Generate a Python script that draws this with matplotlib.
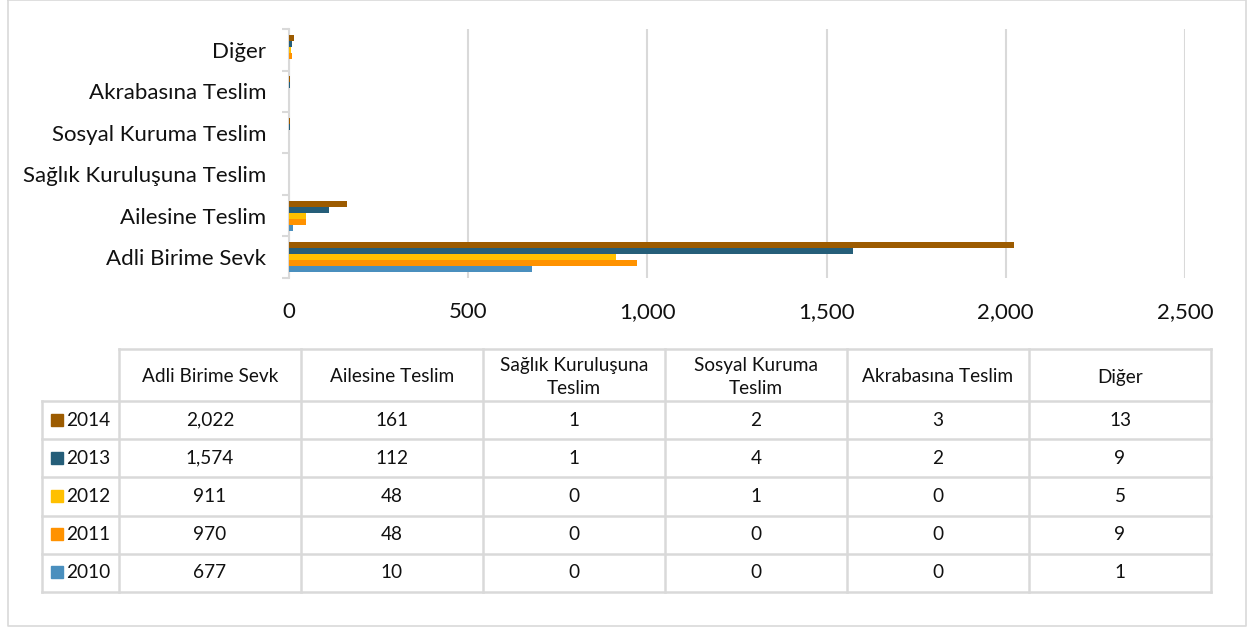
import numpy as np
import matplotlib.pyplot as plt
from matplotlib.ticker import FuncFormatter, FixedLocator

plt.rcParams['font.family'] = ['Lato', 'DejaVu Sans']

categories = ['Adli Birime Sevk', 'Ailesine Teslim', 'Sağlık Kuruluşuna Teslim',
              'Sosyal Kuruma Teslim', 'Akrabasına Teslim', 'Diğer']
header_labels = ['Adli Birime Sevk', 'Ailesine Teslim', 'Sağlık Kuruluşuna\nTeslim',
                 'Sosyal Kuruma\nTeslim', 'Akrabasına Teslim', 'Diğer']
years = ['2014', '2013', '2012', '2011', '2010']
v2014 = [2022, 161, 1, 2, 3, 13]
v2013 = [1574, 112, 1, 4, 2, 9]
v2012 = [911, 48, 0, 1, 0, 5]
v2011 = [970, 48, 0, 0, 0, 9]
v2010 = [677, 10, 0, 0, 0, 1]
series = [v2014, v2013, v2012, v2011, v2010]
colors = ['#9C5B00', '#255E79', '#FFC000', '#FF9200', '#4A8FBE']

W, H = 1247, 627
fig = plt.figure(figsize=(W / 100, H / 100), dpi=100)

# bar chart area (pixel coords of reference)
x0, x1, y0, y1 = 289, 1185, 29, 278
ax = fig.add_axes([x0 / W, 1 - y1 / H, (x1 - x0) / W, (y1 - y0) / H])

bh = 0.145
ypos = np.arange(len(categories))
for j, vals in enumerate(series):
    ax.barh(ypos + (2 - j) * bh, vals, height=bh, color=colors[j], zorder=3)

ax.set_xlim(0, 2500)
ax.set_ylim(-0.5, len(categories) - 0.5)
ax.set_xticks([0, 500, 1000, 1500, 2000, 2500])
ax.xaxis.set_major_formatter(FuncFormatter(lambda v, p: f'{int(v):,}'))
ax.grid(axis='x', color='#D9D9D9', linewidth=1.5, zorder=0)
ax.set_yticks(ypos)
ax.set_yticklabels(categories, fontsize=16, color='#111111')
ax.yaxis.set_minor_locator(FixedLocator(np.arange(-0.5, len(categories), 1)))
ax.tick_params(axis='y', which='major', length=0, pad=16.5)
ax.tick_params(axis='y', which='minor', length=5, color='#D9D9D9', width=1.5)
ax.tick_params(axis='x', length=0, labelsize=16, labelcolor='#111111', pad=17)
for s in ['top', 'right', 'bottom']:
    ax.spines[s].set_visible(False)
ax.spines['left'].set_color('#D9D9D9')
ax.spines['left'].set_linewidth(1.5)

# overlay for table and border
ov = fig.add_axes([0, 0, 1, 1], zorder=-1)
ov.set_xlim(0, W)
ov.set_ylim(H, 0)
ov.axis('off')
ov.plot([8, 8, W - 1.5, W - 1.5, 8], [0, H - 1.5, H - 1.5, 0, 0], color='#D9D9D9', lw=1.2)

lc = '#D9D9D9'
col_edges = np.linspace(119, 1211, 7)
left = 42
head_top, row_top, bottom = 349, 401, 592
row_edges = np.linspace(row_top, bottom, len(years) + 1)

# horizontal lines
ov.plot([col_edges[0], col_edges[-1]], [head_top, head_top], color=lc, lw=1.8)
for yy in row_edges:
    ov.plot([left, col_edges[-1]], [yy, yy], color=lc, lw=1.8)
# vertical lines
for xx in col_edges:
    ov.plot([xx, xx], [head_top, bottom], color=lc, lw=1.8)
ov.plot([left, left], [row_top, bottom], color=lc, lw=1.8)

fs = 13.7
tc = '#111111'
for k, lab in enumerate(header_labels):
    cx = (col_edges[k] + col_edges[k + 1]) / 2
    ov.text(cx, (head_top + row_top) / 2 + 2, lab, ha='center', va='center',
            fontsize=fs, color=tc, linespacing=1.4)

for j, yr in enumerate(years):
    cy = (row_edges[j] + row_edges[j + 1]) / 2
    ov.add_patch(plt.Rectangle((51, cy - 6.5), 12, 12, color=colors[j]))
    ov.text(66, cy, yr, ha='left', va='center', fontsize=fs, color=tc)
    for k, v in enumerate(series[j]):
        cx = (col_edges[k] + col_edges[k + 1]) / 2
        ov.text(cx, cy, f'{v:,}', ha='center', va='center', fontsize=fs, color=tc)

fig.savefig('out.png', dpi=100)
